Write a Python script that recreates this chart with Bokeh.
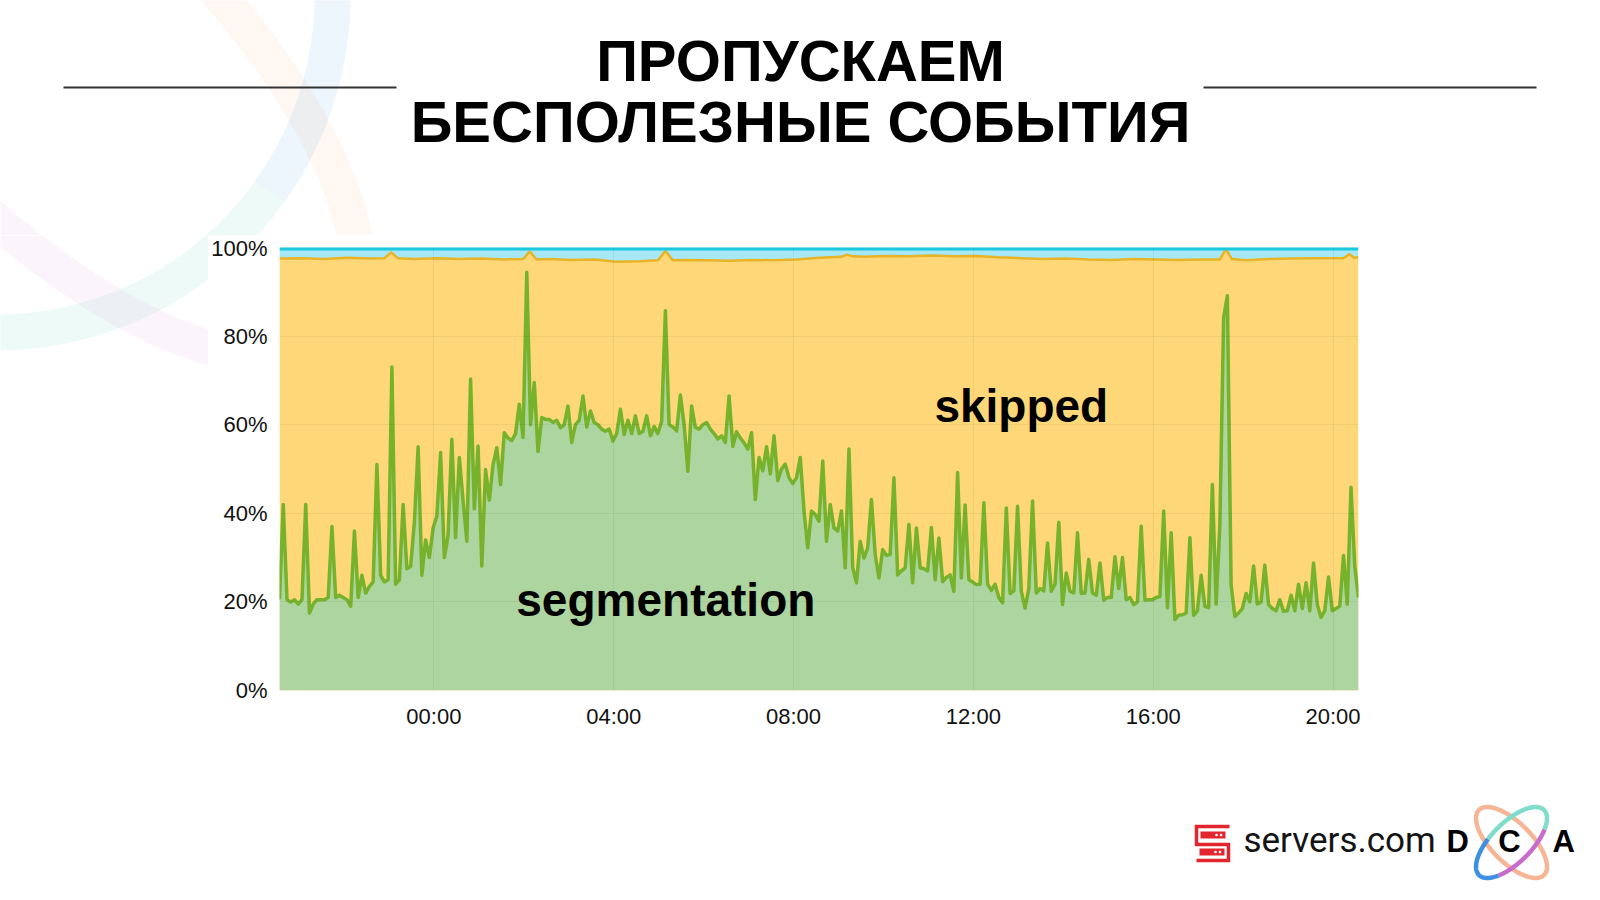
import numpy as np
from bokeh.plotting import figure
from bokeh.layouts import column, row
from bokeh.models import Range1d, FixedTicker, PrintfTickFormatter, DatetimeTickFormatter, Label
from bokeh.core.properties import value
from bokeh.embed import file_html
from bokeh.resources import INLINE

# ---------------- data ----------------
title_lines = ["ПРОПУСКАЕМ", "БЕСПОЛЕЗНЫЕ СОБЫТИЯ"]
series_names = ["segmentation", "skipped"]
y_tick_values = [0, 20, 40, 60, 80, 100]
x_tick_labels = ["00:00", "04:00", "08:00", "12:00", "16:00", "20:00"]
x_tick_day = "2019-03-15"

start_time = "2019-03-14T20:34"
end_time = "2019-03-15T20:34"
step_minutes = 5

# share of "segmentation" events, %, one value every 5 minutes (one row = one hour)
segmentation = [
    20.6, 42, 20.5, 20, 20.5, 19.5, 20.5, 42, 17.5, 19.5, 20.5, 20.5,
    20.5, 21, 37, 21, 21.5, 21, 20.5, 19, 36, 21, 26, 22,
    23.5, 24.5, 51, 26, 24.5, 25, 73, 24, 25, 42, 27.5, 28,
    38, 55, 26, 34, 30, 36.7, 39.4, 53.7, 30, 35, 56.7, 34.5,
    52.6, 42.8, 33.7, 70.3, 41, 55.2, 28.1, 49.9, 43, 51, 54.8, 46.5,
    58.2, 57, 56.4, 58, 64.6, 57.1, 94.4, 60, 69.5, 54, 61.6, 61.2,
    61.2, 60.5, 61, 59.3, 60, 64.2, 56, 60, 61, 66.5, 59.5, 63.1,
    60.5, 60, 59, 58.5, 59, 56.3, 58, 63.5, 57.8, 61, 58, 62,
    58, 58.5, 62, 57.5, 59.6, 58, 60.7, 85.7, 60, 59.5, 58.6, 66.7,
    60, 49.5, 64.2, 59.4, 59, 60, 60.5, 59, 58, 56.8, 57.5, 56,
    66.5, 55.1, 58.4, 57, 55.9, 54.5, 58.2, 43.1, 52.6, 49.6, 55, 48.9,
    57.5, 47.4, 50, 51.1, 48, 46.7, 48, 52.6, 40.5, 32.2, 40.5, 39.7,
    38.2, 51.8, 33.7, 42, 36.7, 36, 40.5, 27.7, 54.5, 27.7, 24.3, 33.7,
    29.9, 32.2, 43.1, 30.7, 25.4, 31.8, 30.5, 30.7, 48, 26.1, 27, 27.7,
    37.5, 24.3, 36.7, 27.7, 27.5, 27, 36.8, 25, 34.4, 24.6, 25.5, 26.1,
    22.4, 49.2, 25.4, 41.9, 25, 24.5, 23.9, 24, 42.4, 24, 22.6, 24,
    21, 19.8, 41.2, 21.9, 22.5, 41.6, 22.4, 18.6, 23, 42.8, 22, 23,
    22.5, 33.3, 22.4, 24, 38, 19.4, 26.5, 22.4, 22, 35.6, 21.9, 22,
    29.6, 22, 21.5, 28.8, 20.4, 21, 21, 30.2, 23, 30, 20.5, 21,
    19.4, 20, 37.1, 20.4, 20.5, 20.5, 21, 21.2, 40.5, 18.7, 35.6, 16,
    17, 17.1, 17.5, 34.5, 17, 18, 26, 19, 18.7, 46.5, 19.5, 37.5,
    84.2, 89.1, 23.9, 16.7, 17.5, 18.5, 21.9, 20, 28.1, 19.5, 20, 28.3,
    19.4, 18.5, 18, 20.5, 17.9, 18, 21.5, 18, 24, 18.5, 24.3, 18,
    28.8, 19.4, 16.5, 18, 25.6, 18, 18.5, 19, 30.5, 19.5, 45.9, 28, 21,
]

# remaining (cyan) share above "skipped", %, sampled at these minutes after start
other_minutes = [0, 30, 60, 90, 120, 140, 149, 158, 180, 210, 240, 270, 300, 325, 334, 343,
                 360, 390, 420, 450, 480, 505, 515, 525, 540, 570, 600, 630, 660, 690, 720,
                 750, 757, 765, 780, 810, 840, 870, 900, 930, 960, 990, 1020, 1050, 1080,
                 1110, 1140, 1170, 1200, 1230, 1255, 1263, 1271, 1290, 1320, 1350, 1380,
                 1420, 1428, 1434, 1440]
other_share = [2.5, 2.4, 2.6, 2.3, 2.5, 2.4, 1.1, 2.4, 2.6, 2.4, 2.6, 2.5, 2.7, 2.6, 0.9, 2.7,
               2.6, 2.8, 2.7, 3.2, 3.1, 2.9, 0.8, 2.9, 2.8, 2.9, 3.0, 2.8, 2.9, 2.7, 2.3,
               2.1, 1.6, 2.0, 2.1, 1.9, 2.0, 1.8, 2.0, 1.9, 2.2, 2.4, 2.6, 2.5, 2.7,
               2.8, 2.6, 2.7, 2.8, 2.7, 2.7, 0.4, 2.6, 2.9, 2.6, 2.5, 2.4,
               2.4, 1.5, 2.3, 2.2]

# ---------------- derived ----------------
t_start = np.datetime64(start_time, "ms")
seg_times = t_start + np.arange(len(segmentation)) * np.timedelta64(step_minutes, "m")
other_times = t_start + np.array(other_minutes) * np.timedelta64(1, "m")
skipped_top = [100 - v for v in other_share]
full_top = [100 for _ in other_share]

def ms(t):
    return float(np.datetime64(t, "ms").astype(np.int64))

x_ticks = [ms(f"{x_tick_day}T{lab}") for lab in x_tick_labels]

W = 1584
FONT = "Liberation Sans"
MID = 0.3465  # middle-of-em offset above the baseline, in em

def blank(width, height, x0, y0):
    f = figure(width=width, height=height, x_range=Range1d(x0, x0 + width),
               y_range=Range1d(y0 + height, y0),
               output_backend="svg", toolbar_location=None, min_border=0,
               x_axis_location=None, y_axis_location=None, frame_align=False)
    f.grid.visible = False
    f.outline_line_color = None
    f.background_fill_color = "white"
    f.border_fill_color = "white"
    return f

def ellipse_pts(cx, cy, a, b, ux, uy, t0, t1, n=160):
    tt = np.linspace(t0, t1, n)
    vx, vy = -uy, ux
    xs = cx + a * np.cos(tt) * ux + b * np.sin(tt) * vx
    ys = cy + a * np.cos(tt) * uy + b * np.sin(tt) * vy
    return xs, ys

R2 = 0.7071

def background_rings(f):
    # big faint rings in the top-left corner of the slide
    for t0, t1, col in [(-0.15, 0.62, "#4aa3e8"), (0.62, 1.75, "#55cdb8")]:
        xs, ys = ellipse_pts(-5, -5, 337, 337, 1, 0, t0, t1)
        f.line(x=xs, y=ys, line_color=col, line_alpha=0.10, line_width=36)
    for t0, t1, col in [(-1.75, 0.1, "#f5a36b"), (0.1, 1.75, "#d98ad0")]:
        xs, ys = ellipse_pts(60, 60, 389, 161, R2, R2, t0, t1)
        f.line(x=xs, y=ys, line_color=col, line_alpha=0.09, line_width=35)

# ---------------- header ----------------
TOP_H = 235
top = blank(W, TOP_H, 0, 0)
background_rings(top)
top.segment(x0=[63, 1203], y0=[87, 87], x1=[396, 1536], y1=[87, 87],
            line_color="#333333", line_width=2)
top.text(x=[800, 800], y=[80 - MID * 58, 141 - MID * 58], text=title_lines,
         text_font=value(FONT), text_font_style="bold", text_font_size="58px",
         text_align="center", text_baseline="middle", text_color="black")

# ---------------- chart row ----------------
CH_H = 533
LEFT_W = 208
left = blank(LEFT_W, CH_H, 0, TOP_H)
background_rings(left)

p = figure(width=W - LEFT_W, height=CH_H, x_axis_type="datetime",
           x_range=Range1d(ms(start_time), ms(end_time)), y_range=Range1d(0, 100),
           output_backend="svg", toolbar_location=None, frame_align=False,
           min_border_left=279 - LEFT_W, min_border_right=226, min_border_top=12,
           min_border_bottom=78)
p.outline_line_color = None
p.background_fill_color = "white"
p.border_fill_color = "white"

p.varea(x=other_times, y1=skipped_top, y2=full_top, fill_color="#a6e8f5")
p.varea(x=other_times, y1=0, y2=skipped_top, fill_color="#fed878")
p.varea(x=seg_times, y1=0, y2=segmentation, fill_color="#add59f")
p.line(x=other_times, y=skipped_top, line_color="#e8b326", line_width=2.5)
p.line(x=seg_times, y=segmentation, line_color="#76b22c", line_width=3.5, line_join="round")
p.line(x=other_times, y=full_top, line_color="#1cc7df", line_width=6)

p.xaxis.ticker = FixedTicker(ticks=x_ticks)
p.xaxis.formatter = DatetimeTickFormatter(minutes="%H:%M", hourmin="%H:%M", hours="%H:%M",
                                          days="%H:%M", months="%H:%M", years="%H:%M")
p.yaxis.ticker = FixedTicker(ticks=y_tick_values)
p.yaxis.formatter = PrintfTickFormatter(format="%d%%")
for ax in (p.xaxis, p.yaxis):
    ax.axis_line_color = None
    ax.major_tick_line_color = None
    ax.minor_tick_line_color = None
    ax.major_tick_out = 0
    ax.major_tick_in = 0
    ax.minor_tick_out = 0
    ax.minor_tick_in = 0
    ax.major_label_text_font = FONT
    ax.major_label_text_font_size = "22px"
    ax.major_label_text_color = "#111111"
p.yaxis.major_label_standoff = 12
p.xaxis.major_label_standoff = 13

p.grid.grid_line_color = "black"
p.grid.grid_line_alpha = 0.05
p.grid.level = "guide"

label_shift = MID * 46 / 4.42  # em-middle offset expressed in % units
p.add_layout(Label(x=ms("2019-03-15T11:08"), y=60.7 + label_shift, text=series_names[1],
                   text_font=FONT, text_font_style="bold", text_font_size="46px",
                   text_color="black", text_baseline="middle"))
p.add_layout(Label(x=ms("2019-03-15T01:50"), y=16.9 + label_shift, text=series_names[0],
                   text_font=FONT, text_font_style="bold", text_font_size="46px",
                   text_color="black", text_baseline="middle"))

# ---------------- footer ----------------
BOT_Y0 = TOP_H + CH_H
BOT_H = 884 - BOT_Y0
bot = blank(W, BOT_H, 0, BOT_Y0)

red = "#e3262d"
bot.line(x=[1229, 1196, 1196, 1228, 1228, 1196], y=[826, 826, 844, 844, 860, 860],
         line_color=red, line_width=3.5, line_join="miter")
bot.quad(left=[1200, 1199], right=[1225, 1224], top=[831, 848], bottom=[838, 855],
         fill_color=red, line_color=None)
bot.scatter(x=[1216, 1220.5, 1215, 1219.5], y=[834.5, 834.5, 851.5, 851.5], size=2.6,
            fill_color="white", line_color=None)
bot.text(x=[1243], y=[852 - 0.34 * 35], text=["servers.com"], text_font=value("Roboto"),
         text_font_size="35px", text_color="#141414", text_baseline="middle")

# DCA rings (decoration)
cx, cy, a, b = 1511.0, 842.0, 46.0, 20.0
xs, ys = ellipse_pts(cx, cy, a, b, R2, R2, 0, 2 * np.pi)
bot.line(x=xs, y=ys, line_color="#f6b595", line_width=4.5)
for (t0, t1, col) in [(-0.6 * np.pi, 0.25 * np.pi, "#80dccb"),
                      (0.25 * np.pi, 0.75 * np.pi, "#c86ccc"),
                      (0.75 * np.pi, 1.4 * np.pi, "#3f8fe3")]:
    xs, ys = ellipse_pts(cx, cy, a, b, R2, -R2, t0, t1, 80)
    bot.line(x=xs, y=ys, line_color=col, line_width=4.5)

dca_y = 852 - MID * 31
bot.text(x=[1446, 1552], y=[dca_y, dca_y], text=["D", "A"], text_font=value(FONT),
         text_font_style="bold", text_font_size="31px", text_color="black",
         text_baseline="middle", text_align="left")
bot.text(x=[1509], y=[dca_y], text=["C"], text_font=value(FONT),
         text_font_style="bold", text_font_size="31px", text_color="black",
         text_baseline="middle", text_align="center")

layout = column(top, row(left, p), bot)
open("out.html", "w").write(file_html(layout, INLINE))
